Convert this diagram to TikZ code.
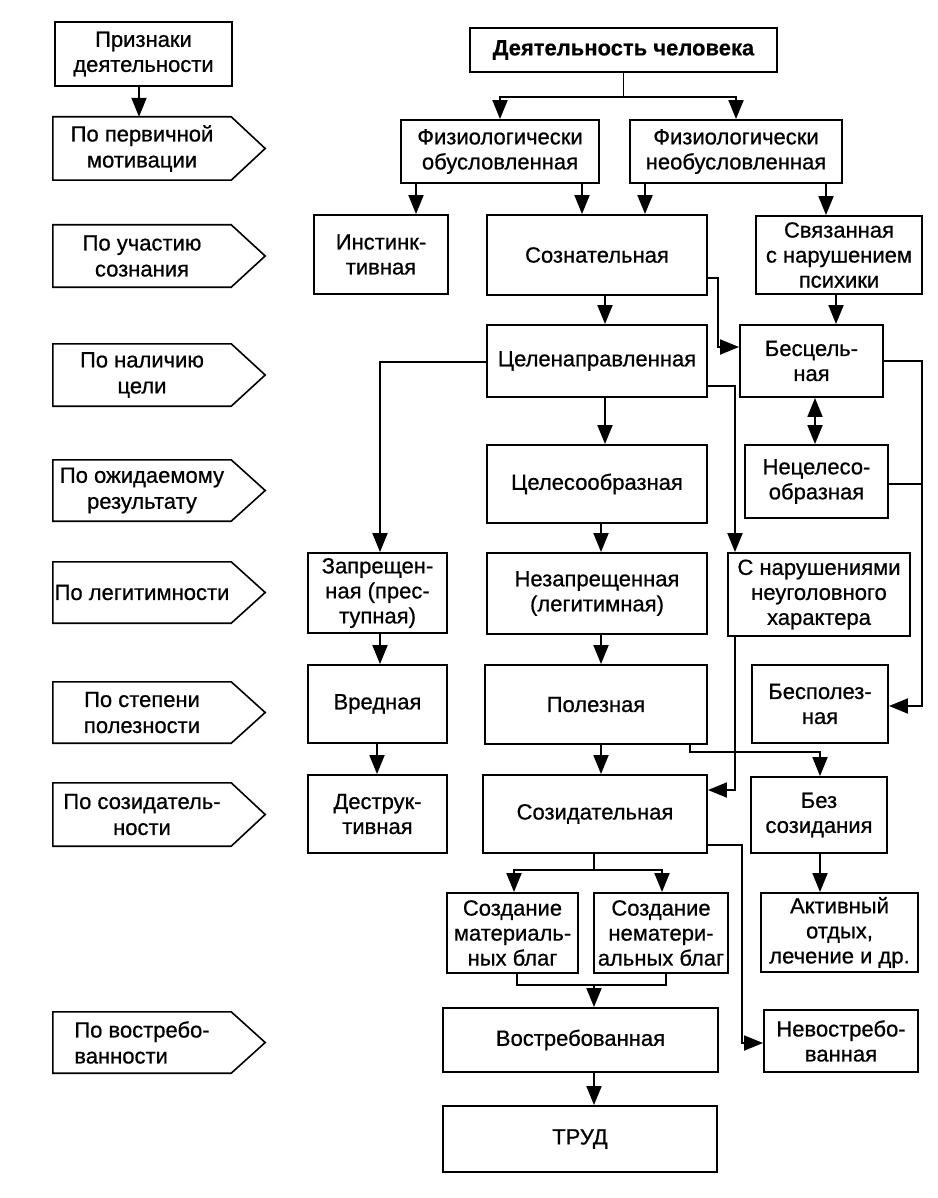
\documentclass[tikz,border=0pt]{standalone}
\usepackage{fontspec}
\setmainfont{Liberation Sans}[FakeBold=0.7]
\usetikzlibrary{arrows.meta}
\begin{document}
\begin{tikzpicture}[x=1pt,y=-1pt,
  box/.style={draw, line width=1.9pt, align=center, inner sep=1pt, font=\fontsize{22}{25}\selectfont},
  sptext/.style={align=center, inner sep=1pt, font=\fontsize{22}{26}\selectfont},
  ln/.style={line width=1.9pt},
  arr/.style={line width=1.9pt, -{Triangle[length=19pt,width=15pt]}},
  darr/.style={line width=1.9pt, {Triangle[length=19pt,width=15pt]}-{Triangle[length=19pt,width=15pt]}}]
\useasboundingbox (0,0) rectangle (937,1198);
\newcommand\bx[6]{\node[box, minimum width={#4-#2}, minimum height={#5-#3}] (#1) at ({(#2+#4)/2},{(#3+#5)/2}) {#6};}
\newcommand\sgn[5][center]{\node[sptext, align=#1, minimum width=178, minimum height={#4-#3}] (#2) at (142,{(#3+#4)/2}) {#5};
  \draw[line width=1.6pt] (#2.north west) -- (#2.north east) -- ([xshift=34pt]#2.east) -- (#2.south east) -- (#2.south west) -- cycle;}
% left column
\bx{pr}{55}{22}{232}{86}{Признаки\\деятельности}
\sgn{s1}{117}{180}{По первичной\\мотивации}
\sgn{s2}{225}{287}{По участию\\сознания}
\sgn{s3}{344}{406}{По наличию\\цели}
\sgn{s4}{460}{521}{По ожидаемому\\результату}
\sgn{s5}{562}{623}{По легитимности}
\sgn{s6}{682}{743}{По степени\\полезности}
\sgn{s7}{783}{846}{По созидатель-\\ности}
\sgn[left]{s8}{1012}{1073}{По востребо-\\ванности}
\draw[arr] (pr.south -| 139,0) -- (s1.north -| 139,0);
% main
\bx{dc}{470}{28}{777}{72}{\fontspec{Liberation Sans}[FakeBold=0.4]\bfseries Деятельность человека}
\bx{fo}{401}{120}{599}{183}{Физиологически\\обусловленная}
\bx{fn}{630}{120}{842}{183}{Физиологически\\необусловленная}
\bx{inst}{314}{215}{448}{294}{Инстинк-\\тивная}
\bx{soz}{487}{215}{707}{295}{Сознательная}
\bx{sv}{756}{216}{922}{294}{Связанная\\с нарушением\\психики}
\bx{cel}{487}{325}{707}{397}{Целенаправленная}
\bx{bes}{740}{325}{883}{397}{Бесцель-\\ная}
\bx{nec}{745}{445}{888}{518}{Нецелесо-\\образная}
\bx{tso}{487}{445}{707}{523}{Целесообразная}
\bx{zap}{308}{553}{447}{633}{Запрещен-\\ная (прес-\\тупная)}
\bx{nez}{487}{553}{707}{634}{Незапрещенная\\(легитимная)}
\bx{snar}{728}{553}{910}{636}{С нарушениями\\неуголовного\\характера}
\bx{vr}{308}{665}{447}{743}{Вредная}
\bx{pol}{485}{665}{707}{744}{Полезная}
\bx{bpol}{752}{665}{888}{743}{Бесполез-\\ная}
\bx{des}{308}{775}{447}{853}{Деструк-\\тивная}
\bx{sozd}{483}{775}{707}{853}{Созидательная}
\bx{bez}{751}{777}{887}{853}{Без\\созидания}
\bx{mat}{447}{893}{578}{973}{Создание\\материаль-\\ных благ}
\bx{nem}{594}{893}{728}{973}{Создание\\нематери-\\альных благ}
\bx{akt}{761}{893}{918}{972}{Активный\\отдых,\\лечение и др.}
\bx{vos}{443}{1008}{718}{1072}{Востребованная}
\bx{nev}{764}{1010}{918}{1072}{Невостребо-\\ванная}
\bx{trud}{443}{1106}{717}{1172}{ТРУД}
% connectors
\coordinate (j1) at (dc.south |- 0,97);
\draw[ln] (dc.south) -- (j1);
\draw[arr] (j1) -| (fo.north);
\draw[arr] (j1) -| (fn.north);
\draw[arr] (fo.south -| 416,0) -- (inst.north -| 416,0);
\draw[arr] (fo.south -| 582,0) -- (soz.north -| 582,0);
\draw[arr] (fn.south -| 645,0) -- (soz.north -| 645,0);
\draw[arr] (fn.south -| 826,0) -- (sv.north -| 826,0);
\draw[arr] (soz.south -| 605,0) -- (cel.north -| 605,0);
\draw[arr] (soz.east |- 0,278) -- (718,278) -- (718,347) -- (bes.west |- 0,347);
\draw[arr] (sv.south -| 836,0) -- (bes.north -| 836,0);
\draw[darr] (bes.south -| 815,0) -- (nec.north -| 815,0);
\draw[arr] (bes.east |- 0,361) -- (922,361) -- (922,706) -- (bpol.east |- 0,706);
\draw[ln] (nec.east |- 0,484) -- (922,484);
\draw[arr] (cel.west |- 0,362) -| (zap.north -| 380,0);
\draw[arr] (cel.east |- 0,386) -| (snar.north -| 735,0);
\draw[arr] (cel.south -| 605,0) -- (tso.north -| 605,0);
\draw[arr] (tso.south -| 601,0) -- (nez.north -| 601,0);
\draw[arr] (snar.south -| 735,0) -- (735,790) -- (sozd.east |- 0,790);
\draw[arr] (zap.south -| 380,0) -- (vr.north -| 380,0);
\draw[arr] (nez.south -| 601,0) -- (pol.north -| 601,0);
\draw[arr] (vr.south -| 377,0) -- (des.north -| 377,0);
\draw[arr] (pol.south -| 601,0) -- (sozd.north -| 601,0);
\draw[arr] (pol.south -| 690,0) -- (690,752) -| (bez.north -| 820,0);
\coordinate (j2) at (594,870);
\draw[ln] (sozd.south -| 594,0) -- (j2);
\draw[arr] (j2) -| (mat.north -| 514,0);
\draw[arr] (j2) -| (nem.north -| 662,0);
\draw[arr] (sozd.east |- 0,845) -- (742,845) -- (742,1043) -- (nev.west |- 0,1043);
\draw[arr] (bez.south -| 820,0) -- (akt.north -| 820,0);
\coordinate (j3) at (594,985);
\draw[ln] (mat.south -| 517,0) |- (j3) -| (nem.south -| 666,0);
\draw[arr] (j3) -- (vos.north -| 594,0);
\draw[arr] (vos.south -| 594,0) -- (trud.north -| 594,0);
\end{tikzpicture}
\end{document}
